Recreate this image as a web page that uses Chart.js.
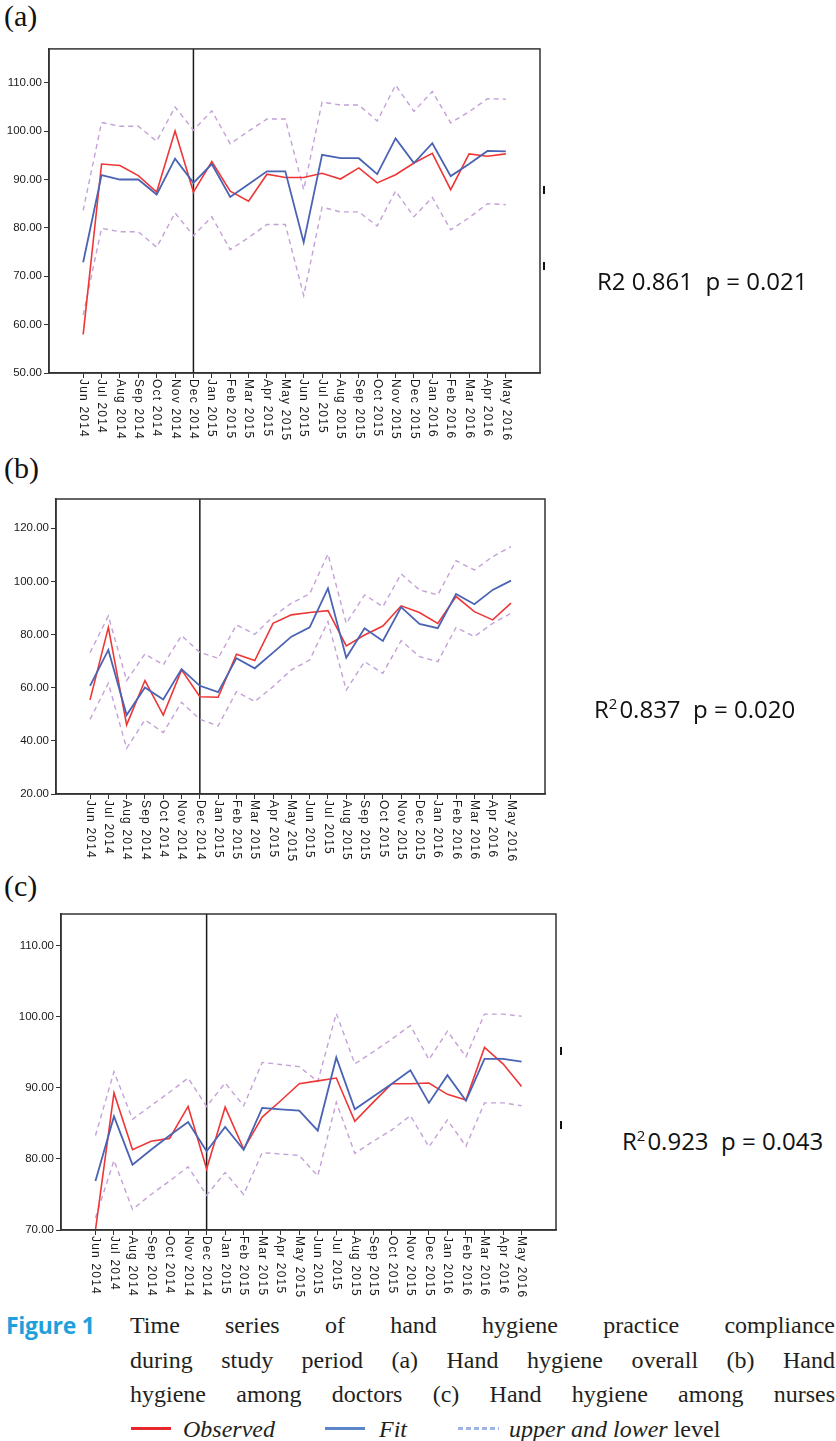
<!DOCTYPE html>
<html>
<head>
<meta charset="utf-8">
<script src="https://cdn.jsdelivr.net/npm/chart.js@4.4.1/dist/chart.umd.min.js"></script>
<style>
  html,body{margin:0;padding:0;background:#fff;}
  body{width:836px;height:1441px;position:relative;overflow:hidden;}
  .abs{position:absolute;}
  canvas{position:absolute;left:0;}
  .ptitle{font-family:"Liberation Serif",serif;font-size:30px;line-height:30px;color:#111;}
  .r2{font-family:"Open Sans",sans-serif;font-size:24px;line-height:30px;color:#111;white-space:pre;}
  .r2 .sup{font-size:15px;position:relative;top:-9px;margin-right:2px;}
  .mark{position:absolute;width:2px;height:8px;background:#111;}
  .cap{position:absolute;left:130px;width:705px;font-family:"Liberation Serif",serif;font-size:24px;line-height:34.5px;color:#231f20;text-align:justify;text-align-last:justify;white-space:nowrap;}
  .fig{position:absolute;left:6px;top:1308px;font-family:"Open Sans",sans-serif;font-weight:700;font-size:23px;line-height:34.5px;color:#1fa0dc;letter-spacing:-0.3px;}
  .leg{position:absolute;top:1412px;font-family:"Liberation Serif",serif;font-size:24px;line-height:34.5px;color:#231f20;white-space:nowrap;}
  .swatch{position:absolute;height:3px;top:1427px;}
</style>
</head>
<body>
<div class="abs ptitle" style="left:4px;top:1px;">(a)</div>
<div class="abs ptitle" style="left:4px;top:453px;">(b)</div>
<div class="abs ptitle" style="left:4px;top:871px;">(c)</div>

<canvas id="chartA" width="600" height="420" style="top:40px;width:600px;height:420px;"></canvas>
<canvas id="chartB" width="600" height="390" style="top:490px;width:600px;height:390px;"></canvas>
<canvas id="chartC" width="600" height="400" style="top:905px;width:600px;height:400px;"></canvas>

<div class="mark" style="left:543px;top:186px;"></div>
<div class="mark" style="left:543px;top:262px;"></div>
<div class="mark" style="left:560px;top:1047px;"></div>
<div class="mark" style="left:560px;top:1121px;"></div>

<div class="abs r2" style="left:597px;top:266px;">R2 0.861  p = 0.021</div>
<div class="abs r2" style="left:594px;top:694px;">R<span class="sup">2</span>0.837  p = 0.020</div>
<div class="abs r2" style="left:622px;top:1126px;">R<span class="sup">2</span>0.923  p = 0.043</div>

<div class="fig">Figure 1</div>
<div class="cap" style="top:1308px;">Time series of hand hygiene practice compliance</div>
<div class="cap" style="top:1342.5px;">during study period (a) Hand hygiene overall (b) Hand</div>
<div class="cap" style="top:1377px;">hygiene among doctors (c) Hand hygiene among nurses</div>

<div class="swatch" style="left:131px;width:40px;background:#e8262b;"></div>
<div class="leg" style="left:183px;font-style:italic;">Observed</div>
<div class="swatch" style="left:325px;width:40px;background:#5b86c8;"></div>
<div class="leg" style="left:379px;font-style:italic;">Fit</div>
<div class="swatch" style="left:458px;width:41px;background:repeating-linear-gradient(90deg,#9fb4e6 0 5px,transparent 5px 8px);"></div>
<div class="leg" style="left:509px;"><i>upper and lower</i> level</div>

<script>
// ---------- DATA ----------
const months = ['Jun 2014','Jul 2014','Aug 2014','Sep 2014','Oct 2014','Nov 2014','Dec 2014',
  'Jan 2015','Feb 2015','Mar 2015','Apr 2015','May 2015','Jun 2015','Jul 2015','Aug 2015',
  'Sep 2015','Oct 2015','Nov 2015','Dec 2015','Jan 2016','Feb 2016','Mar 2016','Apr 2016','May 2016'];
const interventionMonth = 'Dec 2014';

// (a) Hand hygiene overall
const observedA = [58.0,93.2,92.9,90.8,87.4,100.0,87.4,93.7,87.6,85.5,91.1,90.4,90.4,91.3,90.1,92.4,89.3,91.0,93.4,95.4,87.9,95.3,94.8,95.3];
const fitA      = [72.9,90.9,90.0,90.0,86.9,94.3,89.3,93.2,86.4,89.0,91.7,91.7,77.0,95.1,94.4,94.4,91.1,98.5,93.4,97.5,90.7,93.2,95.9,95.8];
const upperA    = [83.6,101.8,101.0,101.0,97.9,105.0,100.2,104.2,97.4,100.0,102.5,102.5,87.9,106.0,105.4,105.4,102.1,109.5,104.1,108.2,101.7,104.0,106.7,106.6];
const lowerA    = [62.0,79.9,79.2,79.2,76.0,83.1,78.4,82.3,75.5,78.0,80.7,80.7,66.0,84.3,83.3,83.3,80.4,87.6,82.3,86.3,79.6,82.1,85.0,84.8];
const yTicksA   = [50,60,70,80,90,100,110];

// (b) Hand hygiene among doctors
const observedB = [55.4,82.7,46.0,62.7,49.7,66.7,56.6,56.4,72.6,70.2,84.2,87.4,88.3,89.0,75.7,79.8,83.2,90.8,88.3,84.2,94.3,88.6,85.5,91.8];
const fitB      = [60.7,74.2,49.7,60.1,55.6,67.0,60.7,58.3,71.1,67.3,73.2,79.2,82.7,97.4,71.3,82.4,77.6,90.3,84.0,82.4,95.3,91.4,96.8,100.3];
const upperB    = [73.2,87.0,62.7,72.7,68.6,79.6,73.3,71.1,83.6,80.1,86.8,91.8,95.3,110.3,84.2,94.9,90.5,102.8,96.8,94.9,107.8,104.3,109.3,113.1];
const lowerB    = [48.1,61.7,37.2,47.9,43.1,54.5,48.1,45.6,58.5,54.8,60.4,66.7,70.4,84.9,59.1,69.8,65.4,77.7,71.7,69.8,82.7,79.2,84.2,88.0];
const yTicksB   = [20,40,60,80,100,120];

// (c) Hand hygiene among nurses
const observedC = [70.0,89.3,81.3,82.5,82.9,87.4,78.6,87.3,81.4,85.9,88.2,90.6,91.0,91.4,85.3,88.0,90.6,90.6,90.7,89.1,88.3,95.7,93.4,90.2];
const fitC      = [76.9,86.0,79.2,81.3,83.3,85.2,81.1,84.5,81.3,87.2,87.0,86.8,84.0,94.3,87.0,88.8,90.6,92.5,87.9,91.8,88.2,94.1,94.1,93.7];
const upperC    = [83.3,92.3,85.6,87.5,89.4,91.4,87.4,90.7,87.5,93.6,93.3,93.0,90.9,100.5,93.4,95.1,96.9,98.8,94.0,98.0,94.4,100.4,100.4,100.1];
const lowerC    = [71.7,79.8,72.9,75.0,76.9,78.9,74.9,78.1,75.0,80.9,80.7,80.5,77.6,88.0,80.8,82.5,84.1,86.1,81.7,85.5,81.8,87.9,87.9,87.5];
const yTicksC   = [70,80,90,100,110];

// ---------- STYLE ----------
const COL_OBS = '#ef3636';
const COL_FIT = '#4a63b3';
const COL_BAND = '#c4a1d8';

function toXY(arr){ return arr.map((v,i)=>({x:i, y:v})); }

const framePlugin = {
  id:'frame',
  beforeDatasetsDraw(chart){
    const {ctx, chartArea:a, scales:{x}} = chart;
    const px = x.getPixelForValue(months.indexOf(interventionMonth));
    ctx.save();
    ctx.strokeStyle = '#1a1a1a';
    ctx.lineWidth = 1.5;
    ctx.beginPath(); ctx.moveTo(px, a.top); ctx.lineTo(px, a.bottom); ctx.stroke();
    ctx.restore();
  },
  afterDraw(chart){
    const {ctx, chartArea:a, scales:{x}} = chart;
    ctx.save();
    ctx.strokeStyle = '#333';
    ctx.lineWidth = 1.5;
    ctx.strokeRect(a.left, a.top, a.right-a.left, a.bottom-a.top);
    ctx.fillStyle = '#1a1a1a';
    ctx.font = '12px "Liberation Sans"';
    try { ctx.letterSpacing = '1.2px'; } catch(e) {}
    ctx.textAlign = 'left';
    ctx.textBaseline = 'middle';
    months.forEach((m,i)=>{
      const px = x.getPixelForValue(i);
      ctx.save();
      ctx.translate(px, a.bottom + 6);
      ctx.rotate(Math.PI/2);
      ctx.fillText(m, 0, 0);
      ctx.restore();
    });
    ctx.restore();
  }
};

function buildPanel(id, canvasH, box, yMin, yMax, yTicks, obs, fit, up, lo){
  const W = 600;
  const line = (label, data, color, width, dash) => ({
    label, data: toXY(data), borderColor: color, borderWidth: width,
    borderDash: dash || [], pointRadius: 0, tension: 0, fill: false
  });
  return new Chart(document.getElementById(id), {
    type: 'line',
    data: { datasets: [
      line('Fit', fit, COL_FIT, 1.8),
      line('Observed', obs, COL_OBS, 1.6),
      line('Upper', up, COL_BAND, 1.4, [5,4]),
      line('Lower', lo, COL_BAND, 1.4, [5,4])
    ]},
    options: {
      responsive: false, animation: false, events: [],
      layout: { padding: { top: box.top, right: W - box.right, left: 0, bottom: 0 } },
      plugins: { legend: { display: false }, tooltip: { enabled: false }, title: { display: false } },
      scales: {
        x: {
          type: 'linear', min: -1.86, max: 24.86,
          afterBuildTicks: s => { s.ticks = months.map((m,i)=>({value:i})); },
          afterFit: s => { s.height = canvasH - box.bottom; },
          ticks: { display: false, autoSkip: false },
          grid: { drawOnChartArea: false, drawTicks: true, tickLength: 5, color: '#333', lineWidth: 1 },
          border: { display: true, color: '#333', width: 1.5 }
        },
        y: {
          min: yMin, max: yMax,
          afterBuildTicks: s => { s.ticks = yTicks.map(v=>({value:v})); },
          afterFit: s => { s.width = box.left; },
          ticks: { callback: v => Number(v).toFixed(2), font: { family: 'Liberation Sans', size: 11.5 },
                   color: '#1a1a1a', padding: 2, autoSkip: false },
          grid: { drawOnChartArea: false, drawTicks: true, tickLength: 5, color: '#333', lineWidth: 1 },
          border: { display: true, color: '#333', width: 1.5 }
        }
      }
    },
    plugins: [framePlugin]
  });
}

buildPanel('chartA', 420, {top:7, bottom:333, left:49, right:540}, 50, 117, yTicksA, observedA, fitA, upperA, lowerA);
buildPanel('chartB', 390, {top:9, bottom:304, left:56, right:545}, 20, 131, yTicksB, observedB, fitB, upperB, lowerB);
buildPanel('chartC', 400, {top:9, bottom:325, left:61, right:556}, 70, 114.5, yTicksC, observedC, fitC, upperC, lowerC);
</script>
</body>
</html>
